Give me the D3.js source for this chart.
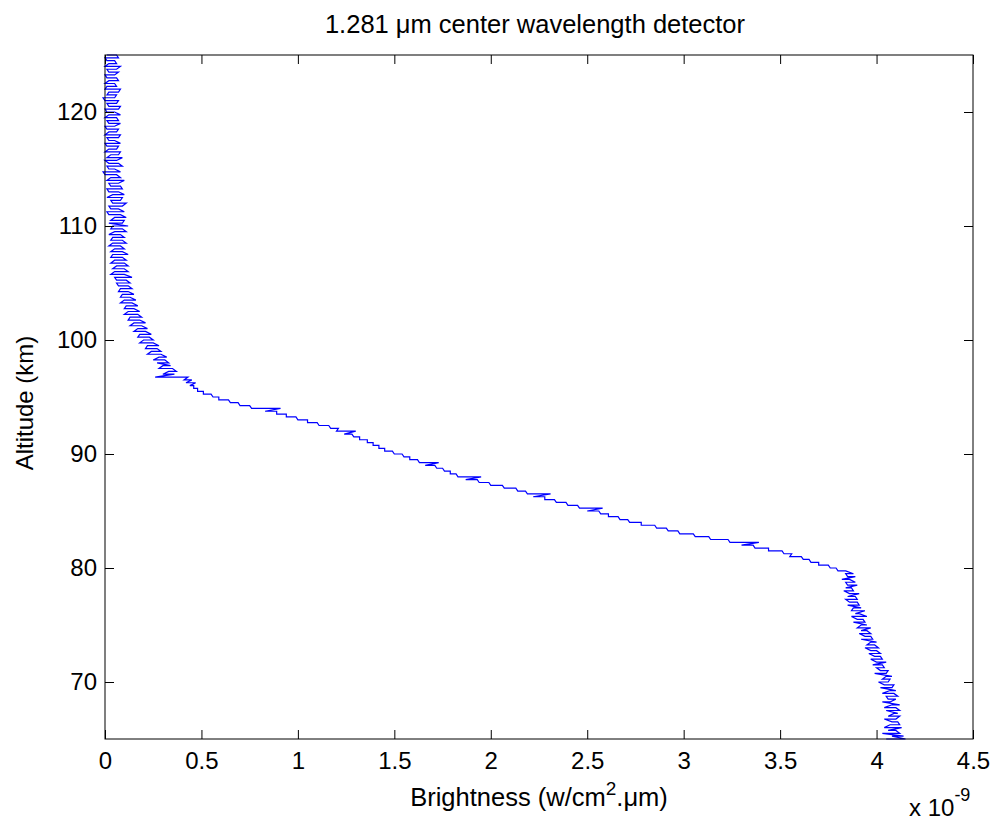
<!DOCTYPE html>
<html>
<head>
<meta charset="utf-8">
<script src="https://cdn.jsdelivr.net/npm/d3@7"></script>
<style>
  body { margin: 0; background: #ffffff; }
  text { font-family: "Liberation Sans", Arial, Helvetica, sans-serif; fill: #000; }
</style>
</head>
<body>
<svg id="chart" width="996" height="821"></svg>
<script>
// ---------------- data ----------------
const chartTitle = "1.281 μm center wavelength detector";
const xTickValues = [0, 0.5, 1, 1.5, 2, 2.5, 3, 3.5, 4, 4.5];
const xTickLabels = ["0", "0.5", "1", "1.5", "2", "2.5", "3", "3.5", "4", "4.5"];
const yTickValues = [70, 80, 90, 100, 110, 120];
const yTickLabels = ["70", "80", "90", "100", "110", "120"];

// altitude levels (km)
const altitude = [
  65,65.25,65.5,65.75,66,66.25,66.5,66.75,67,67.25,67.5,67.75,
  68,68.25,68.5,68.75,69,69.25,69.5,69.75,70,70.25,70.5,70.75,
  71,71.25,71.5,71.75,72,72.25,72.5,72.75,73,73.25,73.5,73.75,
  74,74.25,74.5,74.75,75,75.25,75.5,75.75,76,76.25,76.5,76.75,
  77,77.25,77.5,77.75,78,78.25,78.5,78.75,79,79.25,79.5,79.75,
  80,80.25,80.5,80.75,81,81.25,81.5,81.75,82,82.25,82.5,82.75,
  83,83.25,83.5,83.75,84,84.25,84.5,84.75,85,85.25,85.5,85.75,
  86,86.25,86.5,86.75,87,87.25,87.5,87.75,88,88.25,88.5,88.75,
  89,89.25,89.5,89.75,90,90.25,90.5,90.75,91,91.25,91.5,91.75,
  92,92.25,92.5,92.75,93,93.25,93.5,93.75,94,94.25,94.5,94.75,
  95,95.25,95.5,95.75,96,96.25,96.5,96.75,97,97.25,97.5,97.75,
  98,98.25,98.5,98.75,99,99.25,99.5,99.75,100,100.25,100.5,100.75,
  101,101.25,101.5,101.75,102,102.25,102.5,102.75,103,103.25,103.5,103.75,
  104,104.25,104.5,104.75,105,105.25,105.5,105.75,106,106.25,106.5,106.75,
  107,107.25,107.5,107.75,108,108.25,108.5,108.75,109,109.25,109.5,109.75,
  110,110.25,110.5,110.75,111,111.25,111.5,111.75,112,112.25,112.5,112.75,
  113,113.25,113.5,113.75,114,114.25,114.5,114.75,115,115.25,115.5,115.75,
  116,116.25,116.5,116.75,117,117.25,117.5,117.75,118,118.25,118.5,118.75,
  119,119.25,119.5,119.75,120,120.25,120.5,120.75,121,121.25,121.5,121.75,
  122,122.25,122.5,122.75,123,123.25,123.5,123.75,124,124.25,124.5,124.75,
  125
];

// brightness (x 1e-9 W/cm^2.um): first reading at each altitude level
const brightnessA = [
  // 65 - 79.5 km
  4.05,4.08,4.03,4.10,4.13,4.07,4.11,4.04,4.12,4.09,
  4.05,4.10,4.08,4.03,4.10,4.05,4.09,4.07,4.02,4.09,
  4.01,4.07,4.05,3.99,4.06,4.00,4.03,4.05,3.97,4.02,
  3.96,4.00,3.94,3.99,3.97,3.92,3.97,3.91,3.95,3.97,
  3.92,3.88,3.93,3.87,3.91,3.94,3.88,3.85,3.90,3.84,
  3.89,3.91,3.83,3.87,3.90,3.84,3.86,3.89,3.84,
  // 79.75 - 96 km
  3.84,3.79,3.75,3.70,3.65,3.61,3.56,3.51,3.44,3.36,
  3.39,3.23,3.13,3.05,2.97,2.91,2.85,2.78,2.71,2.66,
  2.61,2.56,2.58,2.45,2.39,2.33,2.28,2.31,2.18,2.13,
  2.06,1.99,1.93,1.95,1.82,1.79,1.75,1.71,1.73,1.62,
  1.58,1.54,1.49,1.45,1.42,1.39,1.36,1.32,1.28,1.30,
  1.21,1.16,1.10,1.05,0.99,0.94,0.89,0.91,0.75,0.69,
  0.64,0.59,0.55,0.51,0.48,0.46,
  // 96.25 - 110 km
  0.47,0.45,0.43,0.36,0.33,0.35,0.30,0.27,0.31,0.28,
  0.29,0.24,0.27,0.22,0.25,0.20,0.23,0.18,0.21,0.17,
  0.19,0.15,0.18,0.13,0.17,0.12,0.15,0.11,0.14,0.10,
  0.13,0.09,0.12,0.08,0.12,0.06,0.11,0.05,0.10,0.05,
  0.10,0.06,0.10,0.05,0.09,0.04,0.09,0.05,0.08,0.04,
  0.09,0.04,0.08,0.05,0.09,0.04,
  // 110.25 - 125 km
  0.02,0.10,0.05,0.08,0.01,0.07,0.02,0.11,0.03,0.09,
  0.04,0.07,0.01,0.08,0.02,0.10,0.03,0.06,-0.01,0.05,
  0.01,0.07,0.00,0.09,0.03,0.08,0.02,0.07,0.00,0.05,
  0.01,0.08,0.02,0.07,0.00,0.08,0.01,0.06,0.02,0.05,
  0.00,0.08,0.01,0.07,-0.01,0.06,0.02,0.08,0.01,0.05,
  0.02,0.06,0.00,0.07,0.01,0.08,0.02,0.05,0.00,0.06
];

// second reading at each altitude level
const brightnessB = [
  // 65 - 79.5 km
  4.15,4.14,4.12,4.06,4.04,4.12,4.08,4.10,4.06,4.11,
  4.12,4.04,4.12,4.07,4.06,4.11,4.03,4.10,4.08,4.04,
  4.06,4.03,4.08,4.05,4.02,4.04,3.98,4.00,4.03,3.99,
  4.02,3.97,4.01,3.95,4.00,3.98,3.94,3.97,3.92,3.90,
  3.95,3.94,3.90,3.95,3.89,3.87,3.92,3.91,3.86,3.90,
  3.85,3.86,3.88,3.84,3.85,3.89,3.82,3.85,3.88,
  // 79.75 - 96 km
  3.80,3.76,3.70,3.66,3.62,3.55,3.52,3.44,3.37,3.30,
  3.24,3.14,3.06,2.98,2.92,2.86,2.78,2.72,2.67,2.61,
  2.57,2.50,2.46,2.40,2.34,2.28,2.22,2.19,2.14,2.07,
  2.00,1.94,1.87,1.83,1.79,1.76,1.72,1.66,1.63,1.58,
  1.55,1.50,1.45,1.42,1.39,1.36,1.32,1.29,1.24,1.20,
  1.17,1.11,1.05,1.00,0.94,0.89,0.83,0.76,0.70,0.65,
  0.59,0.56,0.51,0.48,0.46,0.44,
  // 96.25 - 110 km
  0.42,0.41,0.26,0.30,0.37,0.28,0.34,0.33,0.25,0.32,
  0.22,0.29,0.21,0.28,0.18,0.25,0.17,0.24,0.15,0.22,
  0.13,0.21,0.12,0.19,0.10,0.18,0.10,0.17,0.08,0.16,
  0.08,0.15,0.07,0.14,0.07,0.13,0.06,0.14,0.03,0.12,
  0.04,0.12,0.03,0.11,0.03,0.12,0.03,0.10,0.02,0.11,
  0.03,0.10,0.02,0.11,0.03,0.12,
  // 110.25 - 125 km
  0.09,0.03,0.11,0.02,0.10,0.03,0.09,0.04,0.08,0.01,
  0.10,0.02,0.09,0.03,0.07,0.01,0.08,0.00,0.08,0.02,
  0.09,0.02,0.06,0.01,0.07,0.00,0.06,0.01,0.08,0.02,
  0.07,0.00,0.06,0.01,0.05,0.02,0.07,0.00,0.08,0.01,
  0.07,0.02,0.06,0.00,0.05,0.01,0.07,0.00,0.06,0.00,
  0.07,0.01,0.05,0.02,0.06,0.00,0.06,0.01,0.07,0.01
];

// ---------------- drawing ----------------
const svg = d3.select("#chart");
const plot = { left: 105, right: 973, top: 55, bottom: 739 };
const fontSize = 24;
const tickLen = 9;

const x = d3.scaleLinear().domain([0, 4.5]).range([plot.left, plot.right]);
const y = d3.scaleLinear().domain([65, 125]).range([plot.bottom, plot.top]);

// each altitude level contributes its two readings, in order
const points = [];
altitude.forEach((a, i) => {
  if (brightnessA[i] !== undefined) points.push({ a: a, b: brightnessA[i] });
  if (brightnessB[i] !== undefined) points.push({ a: a, b: brightnessB[i] });
});

const line = d3.line().x(d => x(d.b)).y(d => y(d.a));
svg.append("path")
  .datum(points)
  .attr("fill", "none")
  .attr("stroke", "#0000ff")
  .attr("stroke-width", 1.2)
  .attr("stroke-linejoin", "miter")
  .attr("d", line);

// axes (ticks inward, MATLAB box style)
const bottomAxis = d3.axisBottom(x).tickValues(xTickValues)
  .tickFormat((d, i) => xTickLabels[i]).tickSizeInner(-tickLen).tickSizeOuter(0).tickPadding(13);
const topAxis = d3.axisTop(x).tickValues(xTickValues)
  .tickFormat("").tickSizeInner(-tickLen).tickSizeOuter(0);
const leftAxis = d3.axisLeft(y).tickValues(yTickValues)
  .tickFormat((d, i) => yTickLabels[i]).tickSizeInner(-tickLen).tickSizeOuter(0).tickPadding(8);
const rightAxis = d3.axisRight(y).tickValues(yTickValues)
  .tickFormat("").tickSizeInner(-tickLen).tickSizeOuter(0);

function styleAxis(g) {
  g.select(".domain").remove();
  g.selectAll(".tick line").attr("stroke", "#000").attr("stroke-width", 1);
  g.selectAll(".tick text")
    .attr("font-size", fontSize)
    .attr("font-family", "'Liberation Sans', Arial, sans-serif")
    .attr("fill", "#000");
}

svg.append("g").attr("transform", `translate(0,${plot.bottom})`).call(bottomAxis).call(styleAxis);
svg.append("g").attr("transform", `translate(0,${plot.top})`).call(topAxis).call(styleAxis);
svg.append("g").attr("transform", `translate(${plot.left},0)`).call(leftAxis).call(styleAxis);
svg.append("g").attr("transform", `translate(${plot.right},0)`).call(rightAxis).call(styleAxis);

// frame
svg.append("rect")
  .attr("x", plot.left).attr("y", plot.top)
  .attr("width", plot.right - plot.left).attr("height", plot.bottom - plot.top)
  .attr("fill", "none").attr("stroke", "#000").attr("stroke-width", 1);

// title
svg.append("text")
  .attr("x", 535).attr("y", 33)
  .attr("text-anchor", "middle")
  .attr("font-size", 25.5)
  .text(chartTitle);

// x label with superscript
const xl = svg.append("text")
  .attr("x", 539).attr("y", 806)
  .attr("text-anchor", "middle")
  .attr("font-size", 25.5);
xl.append("tspan").text("Brightness (w/cm");
xl.append("tspan").attr("font-size", 19).attr("dy", -11).text("2");
xl.append("tspan").attr("dy", 11).text(".μm)");

// exponent label
const ex = svg.append("text")
  .attr("x", 909).attr("y", 816)
  .attr("font-size", fontSize);
ex.append("tspan").text("x 10");
ex.append("tspan").attr("font-size", 18).attr("dy", -15).text("-9");

// y label
svg.append("text")
  .attr("transform", "translate(33,403) rotate(-90)")
  .attr("text-anchor", "middle")
  .attr("font-size", fontSize)
  .text("Altitude (km)");
</script>
</body>
</html>
